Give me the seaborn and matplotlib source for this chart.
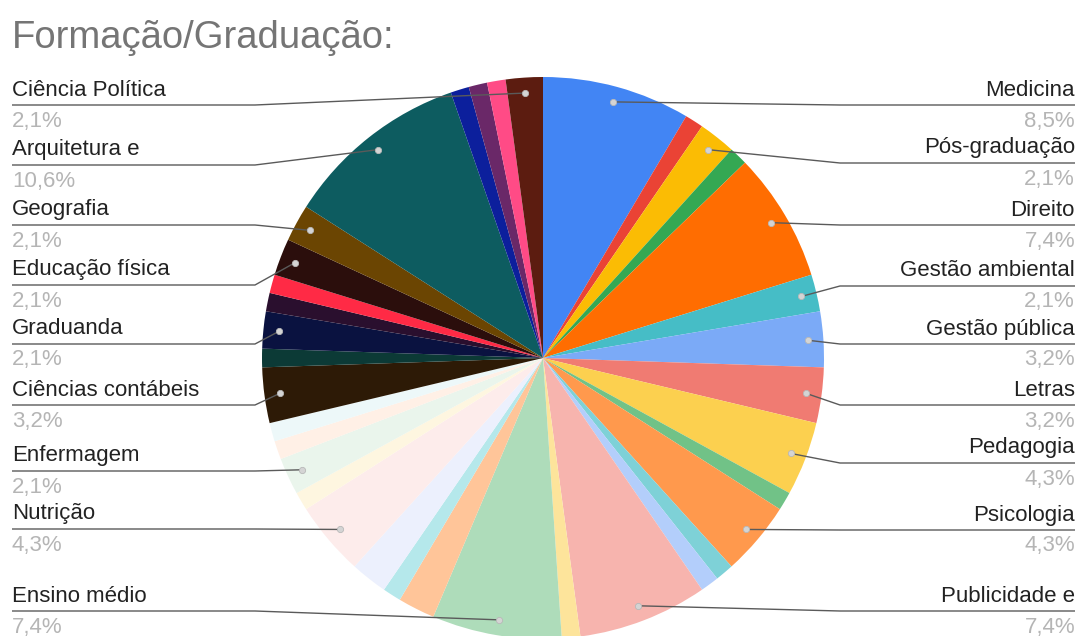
import numpy as np
import matplotlib
matplotlib.use("Agg")
import matplotlib.pyplot as plt
import seaborn as sns

# Course / degree of each respondent (slices clockwise from 12 o'clock)
categories = [
    "Medicina", "", "Pós-graduação", "", "Direito", "Gestão ambiental",
    "Gestão pública", "Letras", "Pedagogia", "", "Psicologia", "", "",
    "Publicidade e", "", "Ensino médio", "", "", "", "Nutrição", "",
    "Enfermagem", "", "", "Ciências contábeis", "", "Graduanda", "", "",
    "Educação física", "Geografia", "Arquitetura e", "", "", "",
    "Ciência Política",
]
counts = [
    8, 1, 2, 1, 7, 2,
    3, 3, 4, 1, 4, 1, 1,
    7, 1, 7, 2, 1, 2, 4, 1,
    2, 1, 1, 3, 1, 2, 1, 1,
    2, 2, 10, 1, 1, 1,
    2,
]
colors = [
    "#4285f4", "#ea4335", "#fbbc04", "#34a853", "#ff6d01", "#46bdc6",
    "#7baaf7", "#f07b72", "#fcd04f", "#71c287", "#ff994d", "#7ed1d7", "#b3cefb",
    "#f7b4ae", "#fde49b", "#aedcba", "#ffc599", "#b5e8eb", "#ecf0fd", "#fdeceb", "#fef6e0",
    "#eaf5ec", "#fff0e6", "#edf8f9", "#2d1a06", "#0c3a36", "#0a1240", "#2a0f2e", "#ff2a45",
    "#2b0e0c", "#6b4502", "#0d5c60", "#0c1f9c", "#6a2868", "#ff4b86",
    "#5c1c10",
]
title = "Formação/Graduação:"

# Label rows (pixel y of the category name), top to bottom on each side
right_rows = [90, 148, 210, 271, 329, 390, 448, 515, 596]
left_rows = [90, 150, 210, 270, 329, 390, 456, 514, 596]

W, H = 1080, 636
CX, CY, R = 543, 358, 281

sns.set_theme(style="white")
plt.rcParams["font.family"] = ["Liberation Sans", "DejaVu Sans"]

fig = plt.figure(figsize=(W / 100, H / 100), dpi=100)
ax = fig.add_axes([0, 0, 1, 1])


def up(y):
    return H - y


ax.pie(counts, colors=colors, startangle=90, counterclock=False,
       radius=R, center=(CX, up(CY)), wedgeprops=dict(linewidth=0))
ax.set_xlim(0, W)
ax.set_ylim(0, H)
ax.set_aspect("equal")
ax.axis("off")

total = sum(counts)
cum = np.cumsum(counts)
mids = (cum - np.array(counts) / 2) / total * 360.0

right_items, left_items = [], []
for name, c, m in zip(categories, counts, mids):
    if not name:
        continue
    pct = f"{100 * c / total:.1f}".replace(".", ",") + "%"
    dx = 0.945 * R * np.sin(np.radians(m))
    dy = 0.945 * R * np.cos(np.radians(m))
    item = (name, pct, CX + dx, CY - dy)
    (right_items if m < 180 else left_items).append(item)

left_items = left_items[::-1]

line_kw = dict(color="#5a5a5a", lw=1.0, solid_capstyle="butt", zorder=3)
for items, rows, side in ((right_items, right_rows, "r"), (left_items, left_rows, "l")):
    for (name, pct, px, py), ry in zip(items, rows):
        ly = ry + 15
        if side == "r":
            xs = [px, 840, 1075]
            tx, ha = 1075, "right"
        else:
            xs = [px, 255, 12]
            tx, ha = 12, "left"
        ax.plot(xs, [up(py), up(ly), up(ly)], **line_kw)
        ax.plot([px], [up(py)], "o", ms=4.5, mfc="#d4d4d4", mec="#b8b8b8",
                mew=0.6, zorder=4)
        ax.text(tx, up(ry), name, ha=ha, va="center", fontsize=16,
                color="#222222")
        ax.text(tx, up(ry + 31), pct, ha=ha, va="center", fontsize=16,
                color="#b5b5b5")

ax.text(12, up(38), title, ha="left", va="center", fontsize=27.5,
        color="#757575")

fig.savefig("out.png", dpi=100)
